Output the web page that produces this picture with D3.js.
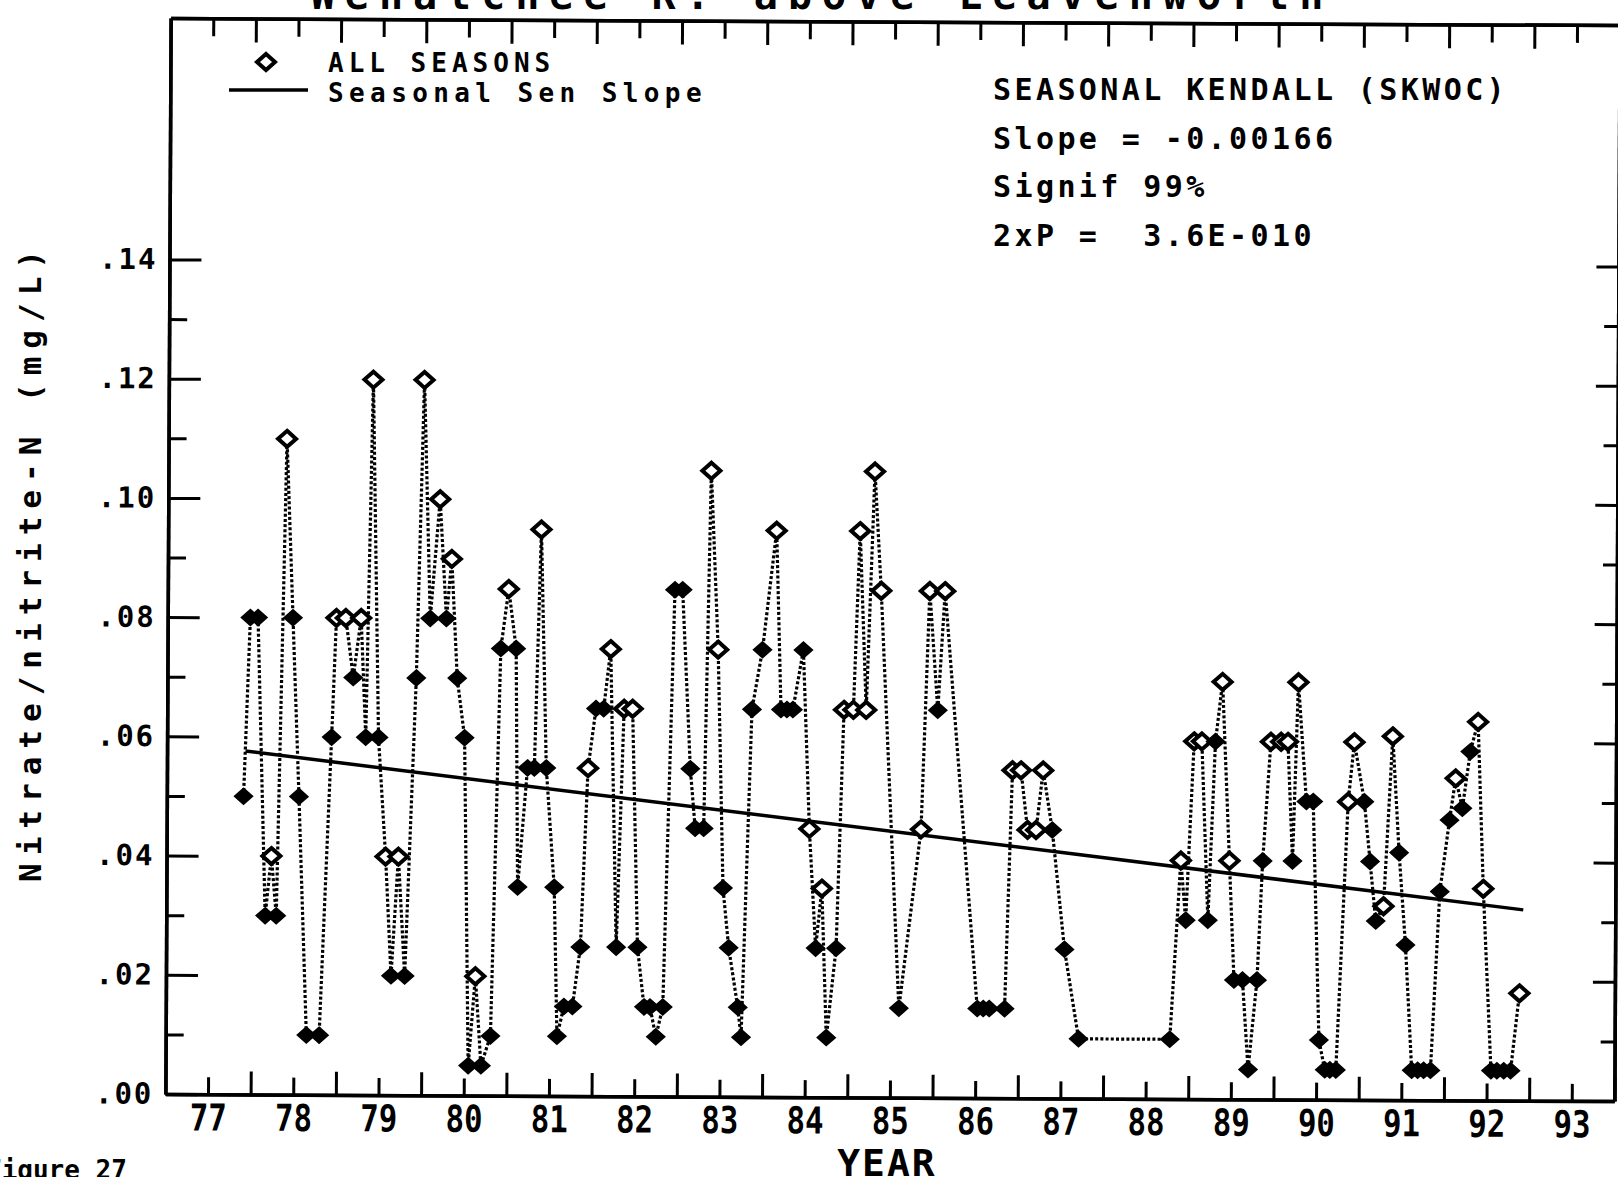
<!DOCTYPE html>
<html>
<head>
  <meta charset="utf-8">
  <title>Wenatchee R. above Leavenworth</title>
  <script src="https://d3js.org/d3.v7.min.js"></script>
  <style>
    body { margin: 0; background: #fff; }
    svg { display: block; }
    text { font-family: "DejaVu Sans Mono", monospace; font-weight: bold; fill: #000; }
  </style>
</head>
<body>
  <svg id="chart" width="1618" height="1177"></svg>

  <script>
    // sample dates (decimal year, 19xx) and nitrate/nitrite-N
    const years = [
      77.40, 77.47, 77.56, 77.66, 77.73, 77.79, 77.89, 77.97, 78.05, 78.15,
      78.30, 78.43, 78.48, 78.59, 78.68, 78.77, 78.83, 78.90, 78.98, 79.07,
      79.14, 79.22, 79.30, 79.42, 79.50, 79.58, 79.69, 79.77, 79.83, 79.90,
      79.99, 80.05, 80.13, 80.20, 80.31, 80.41, 80.50, 80.59, 80.62, 80.73,
      80.81, 80.88, 80.95, 81.05, 81.09, 81.17, 81.27, 81.36, 81.44, 81.53,
      81.62, 81.70, 81.78, 81.86, 81.96, 82.03, 82.11, 82.18, 82.25, 82.33,
      82.45, 82.54, 82.64, 82.70, 82.80, 82.87, 82.96, 83.03, 83.10, 83.21,
      83.25, 83.36, 83.48, 83.64, 83.70, 83.77, 83.84, 83.96, 84.04, 84.12,
      84.19, 84.25, 84.36, 84.44, 84.55, 84.62, 84.70, 84.79, 84.87, 85.10,
      85.35, 85.44, 85.54, 85.62, 86.02, 86.09, 86.16, 86.34, 86.42, 86.52,
      86.60, 86.70, 86.78, 86.89, 87.04, 87.21, 88.28, 88.40, 88.46, 88.55,
      88.64, 88.72, 88.80, 88.88, 88.97, 89.03, 89.13, 89.20, 89.30, 89.36,
      89.45, 89.57, 89.65, 89.71, 89.77, 89.87, 89.95, 90.03, 90.10, 90.16,
      90.23, 90.36, 90.43, 90.55, 90.62, 90.69, 90.78, 90.88, 90.96, 91.04,
      91.12, 91.19, 91.26, 91.34, 91.44, 91.55, 91.62, 91.70, 91.79, 91.88,
      91.95, 92.05, 92.12, 92.20, 92.28, 92.38
    ];
    const nitrate = [
      .050, .080, .080, .030, .040, .030, .110, .080, .050, .010,
      .010, .060, .080, .080, .070, .080, .060, .120, .060, .040,
      .020, .040, .020, .070, .120, .080, .100, .080, .090, .070,
      .060, .005, .020, .005, .010, .075, .085, .075, .035, .055,
      .055, .095, .055, .035, .010, .015, .015, .025, .055, .065,
      .065, .075, .025, .065, .065, .025, .015, .015, .010, .015,
      .085, .085, .055, .045, .045, .105, .075, .035, .025, .015,
      .010, .065, .075, .095, .065, .065, .065, .075, .045, .025,
      .035, .010, .025, .065, .065, .095, .065, .105, .085, .015,
      .045, .085, .065, .085, .015, .015, .015, .015, .055, .055,
      .045, .045, .055, .045, .025, .010, .010, .040, .030, .060,
      .060, .030, .060, .070, .040, .020, .020, .005, .020, .040,
      .060, .060, .060, .040, .070, .050, .050, .010, .005, .005,
      .005, .050, .060, .050, .040, .030, .0325, .061, .0415, .026,
      .005, .005, .005, .005, .035, .047, .054, .049, .0585, .0635,
      .0355, .005, .005, .005, .005, .018
    ];
    // 1 = printed as open diamond, 0 = printed solid
    const hollow = [
      0, 0, 0, 0, 1, 0, 1, 0, 0, 0,
      0, 0, 1, 1, 0, 1, 0, 1, 0, 1,
      0, 1, 0, 0, 1, 0, 1, 0, 1, 0,
      0, 0, 1, 0, 0, 0, 1, 0, 0, 0,
      0, 1, 0, 0, 0, 0, 0, 0, 1, 0,
      0, 1, 0, 1, 1, 0, 0, 0, 0, 0,
      0, 0, 0, 0, 0, 1, 1, 0, 0, 0,
      0, 0, 0, 1, 0, 0, 0, 0, 1, 0,
      1, 0, 0, 1, 1, 1, 1, 1, 1, 0,
      1, 1, 0, 1, 0, 0, 0, 0, 1, 1,
      1, 1, 1, 0, 0, 0, 0, 1, 0, 1,
      1, 0, 0, 1, 1, 0, 0, 0, 0, 0,
      1, 1, 1, 0, 1, 0, 0, 0, 0, 0,
      0, 1, 1, 0, 0, 0, 1, 1, 0, 0,
      0, 0, 0, 0, 0, 0, 1, 0, 0, 1,
      1, 0, 0, 0, 0, 1
    ];

    // seasonal Sen slope line end points
    const trendYears = [77.42, 92.42];
    const trendValues = [0.0576, 0.0320];

    const yearLabels = ["77", "78", "79", "80", "81", "82", "83", "84", "85",
                        "86", "87", "88", "89", "90", "91", "92", "93"];
    const valueTicks = [0, .02, .04, .06, .08, .10, .12, .14];
    const valueLabels = [".00", ".02", ".04", ".06", ".08", ".10", ".12", ".14"];
    const minorValueTicks = [.01, .03, .05, .07, .09, .11, .13];

    const statsLines = ["SEASONAL KENDALL (SKWOC)", "Slope = -0.00166", "Signif 99%", "2xP =  3.6E-010"];

    const data = years.map((t, i) => ({ year: t, value: nitrate[i], open: hollow[i] === 1 }));
    const trend = trendYears.map((t, i) => ({ year: t, value: trendValues[i] }));

    const plotLeft = 168, plotRight = 1617, plotTop = 18, plotBottom = 1094;

    const svg = d3.select("#chart");

    const x = d3.scaleLinear().domain([76.5, 93.5]).range([plotLeft, plotRight]);
    const y = d3.scaleLinear().domain([0, 0.1805]).range([plotBottom, plotTop]);

    const yearTicks = yearLabels.map(s => +s);
    const halfYearTicks = yearTicks.map(t => t + 0.5);

    // the scanned sheet sits a little crooked, so the whole plot is turned slightly
    const plot = svg.append("g").attr("transform", "rotate(0.28, 168, 560)");

    // axes, all ticks pointing inward
    function styleAxis(g) {
      g.attr("font-family", null).attr("font-size", null);
      g.selectAll("path.domain").attr("stroke", "#000").attr("stroke-width", 3.5);
      g.selectAll(".tick line").attr("stroke", "#000").attr("stroke-width", 3);
    }

    plot.append("g").attr("transform", `translate(0,${plotBottom})`)
      .call(d3.axisBottom(x).tickValues(yearTicks).tickFormat((d, i) => yearLabels[i])
        .tickSizeInner(-17).tickSizeOuter(0).tickPadding(10))
      .call(styleAxis)
      .call(g => g.selectAll("text")
        .attr("font-size", 37)
        .attr("textLength", 37)
        .attr("lengthAdjust", "spacingAndGlyphs"));
    plot.append("g").attr("transform", `translate(0,${plotBottom})`)
      .call(d3.axisBottom(x).tickValues(halfYearTicks).tickFormat("").tickSizeInner(-23).tickSizeOuter(0))
      .call(styleAxis);

    plot.append("g").attr("transform", `translate(0,${plotTop})`)
      .call(d3.axisTop(x).tickValues(yearTicks).tickFormat("").tickSizeInner(-18).tickSizeOuter(0))
      .call(styleAxis);
    plot.append("g").attr("transform", `translate(0,${plotTop})`)
      .call(d3.axisTop(x).tickValues(halfYearTicks).tickFormat("").tickSizeInner(-24).tickSizeOuter(0))
      .call(styleAxis);

    plot.append("g").attr("transform", `translate(${plotLeft},0)`)
      .call(d3.axisLeft(y).tickValues(valueTicks).tickFormat((d, i) => valueLabels[i])
        .tickSizeInner(-32).tickSizeOuter(0).tickPadding(12))
      .call(styleAxis)
      .call(g => g.selectAll("text")
        .attr("font-size", 29)
        .style("letter-spacing", "2px"));
    plot.append("g").attr("transform", `translate(${plotLeft},0)`)
      .call(d3.axisLeft(y).tickValues(minorValueTicks).tickFormat("").tickSizeInner(-18).tickSizeOuter(0))
      .call(styleAxis);

    plot.append("g").attr("transform", `translate(${plotRight},0)`)
      .call(d3.axisRight(y).tickValues(valueTicks).tickFormat("").tickSizeInner(-22).tickSizeOuter(0))
      .call(styleAxis);
    plot.append("g").attr("transform", `translate(${plotRight},0)`)
      .call(d3.axisRight(y).tickValues(minorValueTicks).tickFormat("").tickSizeInner(-14).tickSizeOuter(0))
      .call(styleAxis);

    // dotted data line
    const line = d3.line().x(d => x(d.year)).y(d => y(d.value));
    plot.append("path")
      .datum(data)
      .attr("d", line)
      .attr("fill", "none")
      .attr("stroke", "#000")
      .attr("stroke-width", 3.2)
      .attr("stroke-dasharray", "3,2.2");

    // Sen slope line
    plot.append("path")
      .datum(trend)
      .attr("d", line)
      .attr("fill", "none")
      .attr("stroke", "#000")
      .attr("stroke-width", 3.5);

    // diamonds
    const diamond = "M0,-8 L9,0 L0,8 L-9,0 Z";
    plot.append("g")
      .selectAll("path")
      .data(data)
      .join("path")
      .attr("d", diamond)
      .attr("transform", d => `translate(${x(d.year)},${y(d.value)})`)
      .attr("fill", d => d.open ? "#fff" : "#000")
      .attr("stroke", "#000")
      .attr("stroke-width", d => d.open ? 4 : 1.5);

    // legend
    svg.append("path").attr("d", diamond)
      .attr("transform", "translate(266,62)")
      .attr("fill", "#fff").attr("stroke", "#000").attr("stroke-width", 4);
    svg.append("line")
      .attr("x1", 229).attr("x2", 308).attr("y1", 90).attr("y2", 90)
      .attr("stroke", "#000").attr("stroke-width", 3.5);
    svg.append("text").attr("x", 328).attr("y", 72)
      .attr("font-size", 26).style("letter-spacing", "5px").text("ALL SEASONS");
    svg.append("text").attr("x", 328).attr("y", 102)
      .attr("font-size", 26).style("letter-spacing", "5.4px").text("Seasonal Sen Slope");

    // test statistics
    svg.append("g")
      .selectAll("text")
      .data(statsLines)
      .join("text")
      .attr("x", 993)
      .attr("y", (d, i) => 100 + i * 48.5)
      .attr("font-size", 30)
      .style("letter-spacing", "3.4px")
      .style("white-space", "pre")
      .text(d => d);

    // titles
    svg.append("text")
      .attr("x", 822).attr("y", 9)
      .attr("text-anchor", "middle")
      .attr("font-size", 40)
      .style("letter-spacing", "10px")
      .text("Wenatchee R. above Leavenworth");

    svg.append("text")
      .attr("x", 887).attr("y", 1176)
      .attr("text-anchor", "middle")
      .attr("font-size", 38)
      .style("letter-spacing", "2px")
      .text("YEAR");

    svg.append("text")
      .attr("transform", "translate(41,562) rotate(-90)")
      .attr("text-anchor", "middle")
      .attr("font-size", 31)
      .style("letter-spacing", "8px")
      .text("Nitrate/nitrite-N (mg/L)");

    svg.append("text")
      .attr("x", -14).attr("y", 1179)
      .attr("font-family", "Liberation Mono")
      .attr("font-weight", "normal")
      .attr("font-size", 26)
      .text("Figure 27");
  </script>
</body>
</html>
